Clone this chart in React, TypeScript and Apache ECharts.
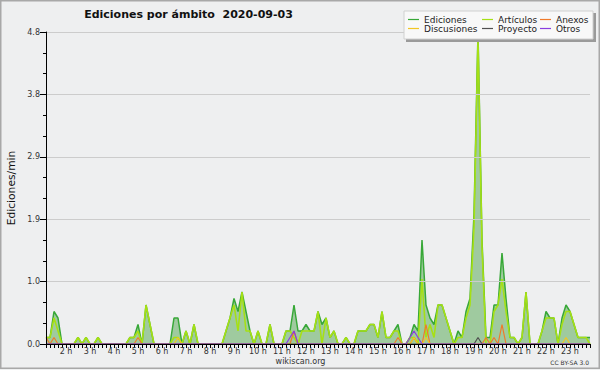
import React, { useEffect, useRef } from "react";
import * as echarts from "echarts";

// 10-minute slots from 1:10 to 23:50
const times: string[] = [];
for (let m = 70; m <= 1430; m += 10) {
  const h = Math.floor(m / 60);
  const mm = m % 60;
  times.push(`${h}:${mm < 10 ? "0" + mm : mm}`);
}

const ediciones = [
  0.1, 0.1, 0.5, 0.4, 0, 0, 0, 0, 0.1, 0,
  0.1, 0, 0, 0.1, 0, 0, 0, 0, 0, 0,
  0, 0.1, 0.1, 0.3, 0, 0.6, 0.3, 0, 0, 0,
  0, 0, 0.4, 0.4, 0, 0.2, 0, 0.3, 0, 0,
  0, 0, 0, 0, 0, 0.2, 0.4, 0.7, 0.5, 0.8,
  0.5, 0.2, 0, 0.2, 0, 0, 0.3, 0, 0, 0,
  0.2, 0.2, 0.6, 0.2, 0.2, 0.3, 0.2, 0.2, 0.5, 0.3,
  0.4, 0.1, 0.2, 0, 0, 0.1, 0, 0, 0.2, 0.2,
  0.2, 0.3, 0.3, 0.1, 0.5, 0.1, 0.1, 0.2, 0.3, 0,
  0, 0.1, 0.3, 0.2, 1.6, 0.6, 0.4, 0.3, 0.6, 0.6,
  0.4, 0.2, 0, 0.2, 0.1, 0.5, 0.7, 2.0, 4.8, 1.6,
  0.1, 0.1, 0.6, 0.6, 1.4, 0.7, 0.1, 0.1, 0, 0.1,
  0.8, 0, 0, 0, 0.2, 0.5, 0.4, 0.4, 0, 0.4,
  0.6, 0.5, 0.3, 0.1, 0.1, 0.1, 0.1,
];

const articulos = [
  0.1, 0.1, 0.4, 0.2, 0, 0, 0, 0, 0.1, 0,
  0.1, 0, 0, 0.1, 0, 0, 0, 0, 0, 0,
  0, 0.1, 0.1, 0.2, 0, 0.6, 0.3, 0, 0, 0,
  0, 0, 0.1, 0.1, 0, 0.2, 0, 0.3, 0, 0,
  0, 0, 0, 0, 0, 0.2, 0.4, 0.6, 0.2, 0.8,
  0.2, 0.2, 0, 0.2, 0, 0, 0.3, 0, 0, 0,
  0.2, 0.2, 0.1, 0, 0.2, 0.2, 0.2, 0.2, 0.5, 0,
  0.4, 0.1, 0.2, 0, 0, 0.1, 0, 0, 0.2, 0.2,
  0.2, 0.3, 0.3, 0.1, 0.5, 0.1, 0.1, 0.2, 0.2, 0,
  0, 0.1, 0.1, 0, 1.0, 0.1, 0.3, 0.1, 0.6, 0.6,
  0.4, 0.2, 0, 0.1, 0.1, 0.4, 0.6, 1.8, 4.7, 1.5,
  0, 0, 0.5, 0.6, 1.0, 0.5, 0.1, 0.1, 0, 0.1,
  0.8, 0, 0, 0, 0.2, 0.4, 0.4, 0.4, 0, 0.3,
  0.5, 0.5, 0.3, 0.1, 0.1, 0.1, 0,
];

const anexos = [
  0.1, 0, 0.1, 0, 0, 0, 0, 0, 0, 0,
  0, 0, 0, 0, 0, 0, 0, 0, 0, 0,
  0, 0, 0, 0.1, 0, 0, 0, 0, 0, 0,
  0, 0, 0, 0, 0, 0, 0, 0, 0, 0,
  0, 0, 0, 0, 0, 0, 0, 0, 0, 0,
  0, 0, 0, 0, 0, 0, 0, 0, 0, 0,
  0, 0, 0.2, 0, 0, 0, 0, 0, 0, 0,
  0, 0, 0, 0, 0, 0, 0, 0, 0, 0,
  0, 0, 0, 0, 0, 0, 0, 0, 0.1, 0,
  0, 0, 0.1, 0, 0, 0.3, 0, 0, 0, 0,
  0, 0, 0, 0, 0, 0, 0, 0, 0, 0,
  0.1, 0, 0.1, 0, 0.3, 0, 0, 0, 0, 0,
  0, 0, 0, 0, 0, 0, 0, 0, 0, 0,
  0, 0, 0, 0, 0, 0, 0,
];

const discusiones = [
  0, 0, 0, 0, 0, 0, 0, 0, 0, 0,
  0, 0, 0, 0, 0, 0, 0, 0, 0, 0,
  0, 0, 0, 0, 0, 0, 0, 0, 0, 0,
  0, 0, 0, 0.1, 0, 0, 0, 0, 0, 0,
  0, 0, 0, 0, 0, 0, 0, 0, 0, 0,
  0, 0, 0, 0, 0, 0, 0, 0, 0, 0,
  0, 0, 0, 0, 0, 0, 0, 0, 0, 0,
  0, 0, 0, 0, 0, 0, 0, 0, 0, 0,
  0, 0, 0, 0, 0, 0, 0, 0, 0, 0,
  0, 0, 0.1, 0, 0, 0.1, 0, 0, 0, 0,
  0, 0, 0, 0, 0, 0, 0, 0, 0, 0,
  0, 0, 0, 0, 0, 0, 0, 0, 0, 0,
  0, 0, 0, 0, 0, 0, 0, 0, 0, 0,
  0.1, 0, 0, 0, 0, 0, 0,
];

const proyecto = [
  0, 0, 0, 0, 0, 0, 0, 0, 0, 0,
  0, 0, 0, 0, 0, 0, 0, 0, 0, 0,
  0, 0, 0, 0, 0, 0, 0, 0, 0, 0,
  0, 0, 0, 0, 0, 0, 0, 0, 0, 0,
  0, 0, 0, 0, 0, 0, 0, 0, 0, 0,
  0, 0, 0, 0, 0, 0, 0, 0, 0, 0,
  0, 0, 0, 0, 0, 0, 0, 0, 0, 0,
  0, 0, 0, 0, 0, 0, 0, 0, 0, 0,
  0, 0, 0, 0, 0, 0, 0, 0, 0, 0,
  0, 0, 0, 0, 0, 0, 0, 0, 0, 0,
  0, 0, 0, 0, 0, 0, 0, 0, 0.1, 0,
  0, 0, 0, 0, 0, 0, 0, 0, 0, 0,
  0, 0, 0, 0, 0, 0, 0, 0, 0, 0,
  0, 0, 0, 0, 0, 0, 0,
];

const otros = [
  0, 0, 0, 0, 0, 0, 0, 0, 0, 0,
  0, 0, 0, 0, 0, 0, 0, 0, 0, 0,
  0, 0, 0, 0, 0, 0, 0, 0, 0, 0,
  0, 0, 0, 0, 0, 0, 0, 0, 0, 0,
  0, 0, 0, 0, 0, 0, 0, 0, 0, 0,
  0, 0, 0, 0, 0, 0, 0, 0, 0, 0,
  0, 0.1, 0.2, 0, 0, 0, 0, 0, 0, 0,
  0, 0, 0, 0, 0, 0, 0, 0, 0, 0,
  0, 0, 0, 0, 0, 0, 0, 0, 0, 0,
  0, 0.1, 0.2, 0.1, 0, 0, 0, 0, 0, 0,
  0, 0, 0, 0, 0, 0, 0, 0, 0, 0,
  0, 0, 0, 0, 0, 0, 0, 0, 0, 0,
  0, 0, 0, 0, 0, 0, 0, 0, 0, 0,
  0, 0, 0, 0, 0, 0, 0,
];

const FONT = "DejaVu Sans";

export default function App() {
  const ref = useRef<HTMLDivElement>(null);
  useEffect(() => {
    if (!ref.current) return;
    const chart = echarts.init(ref.current, undefined, { renderer: "svg" });
    const line = (name: string, data: number[], color: string, width: number, extra: any = {}) => ({
      name,
      type: "line",
      data,
      symbol: "none",
      showSymbol: false,
      lineStyle: { color, width },
      itemStyle: { color },
      ...extra,
    });
    const legendBase = {
      orient: "vertical",
      top: 15,
      padding: 0,
      itemGap: 0,
      itemWidth: 11,
      itemHeight: 1.2,
      icon: "rect",
      selectedMode: false,
      textStyle: { fontFamily: FONT, fontSize: 9, color: "#222", lineHeight: 9, padding: [0, 0, 0, 0] },
      z: 10,
    };
    chart.setOption({
      animation: false,
      backgroundColor: "#eeeff0",
      grid: { left: 46, right: 10, top: 32, bottom: 26 },
      xAxis: {
        type: "category",
        data: times,
        boundaryGap: false,
        z: 4,
        axisLine: { lineStyle: { color: "#000", width: 1 } },
        axisTick: { interval: 0, length: 4, lineStyle: { color: "#000" } },
        axisLabel: {
          interval: (idx: number) => times[idx].endsWith(":00"),
          formatter: (v: string) => parseInt(v, 10) + " h",
          fontFamily: FONT,
          fontSize: 8,
          color: "#333",
          margin: 3,
        },
        splitLine: { show: false },
      },
      yAxis: {
        type: "value",
        min: 0,
        max: 4.8,
        interval: 0.96,
        z: 4,
        axisLine: { show: true, lineStyle: { color: "#000", width: 1 } },
        axisTick: { show: true, length: 6, lineStyle: { color: "#000" } },
        minorTick: { show: true, splitNumber: 3, length: 3, lineStyle: { color: "#000" } },
        axisLabel: {
          formatter: (v: number) => v.toFixed(1),
          fontFamily: FONT,
          fontSize: 8,
          color: "#333",
          margin: 6,
        },
        splitLine: { show: true, lineStyle: { color: "#cccccc", width: 1 } },
      },
      legend: [
        { ...legendBase, left: 408, data: ["Ediciones", "Discusiones"] },
        { ...legendBase, left: 482, data: ["Artículos", "Proyecto"] },
        { ...legendBase, left: 540, data: ["Anexos", "Otros"] },
      ],
      graphic: [
        {
          type: "rect",
          shape: { x: 0.75, y: 0.75, width: 598.5, height: 367.5 },
          style: { fill: "none", stroke: "#a8a8a8", lineWidth: 1.5 },
          silent: true,
          z: 0,
        },
        {
          type: "rect",
          shape: { x: 406, y: 13, width: 190, height: 29 },
          style: { fill: "#9a9a9a" },
          z: 5,
          silent: true,
        },
        {
          type: "rect",
          shape: { x: 404, y: 11, width: 189, height: 28 },
          style: { fill: "#f8f8f8", stroke: "#d0d0d0", lineWidth: 1 },
          z: 6,
          silent: true,
        },
        {
          type: "text",
          x: 188.5,
          y: 14,
          z: 6,
          style: {
            text: "Ediciones por ámbito  2020-09-03",
            fontFamily: FONT,
            fontWeight: "bold",
            fontSize: 11,
            fill: "#111",
            textAlign: "center",
            textVerticalAlign: "middle",
          },
        },
        {
          type: "text",
          x: 11,
          y: 188,
          rotation: Math.PI / 2,
          z: 6,
          style: {
            text: "Ediciones/min",
            fontFamily: FONT,
            fontSize: 10.7,
            fill: "#111",
            textAlign: "center",
            textVerticalAlign: "middle",
          },
        },
        {
          type: "text",
          x: 300.5,
          y: 361,
          z: 6,
          style: {
            text: "wikiscan.org",
            fontFamily: FONT,
            fontSize: 8,
            fill: "#333",
            textAlign: "center",
            textVerticalAlign: "middle",
          },
        },
        {
          type: "text",
          x: 589,
          y: 362,
          z: 6,
          style: {
            text: "CC BY-SA 3.0",
            fontFamily: FONT,
            fontSize: 6,
            fill: "#333",
            textAlign: "right",
            textVerticalAlign: "middle",
          },
        },
      ],
      series: [
        line("Ediciones", ediciones, "#38a838", 1.5, {
          areaStyle: { color: "#9fca9f", opacity: 1 },
        }),
        line("Artículos", articulos, "#a6e014", 1.6),
        line("Anexos", anexos, "#f07a2a", 1.2),
        line("Discusiones", discusiones, "#f2c624", 1.2),
        line("Proyecto", proyecto, "#505050", 1.2),
        line("Otros", otros, "#8a3ee0", 1.2),
      ],
    });
    return () => chart.dispose();
  }, []);
  return (
    <div
      ref={ref}
      style={{ position: "absolute", left: 0, top: 0, width: 600, height: 370 }}
    />
  );
}
